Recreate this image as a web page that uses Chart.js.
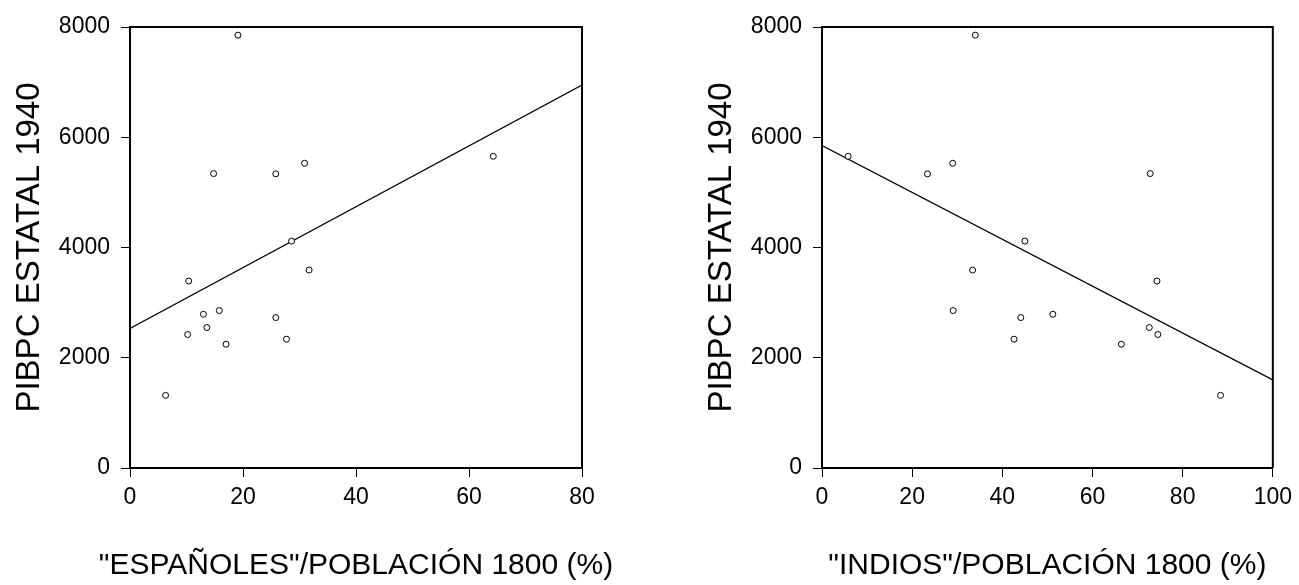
<!DOCTYPE html>
<html lang="es">

<head>
  <meta charset="UTF-8">
  <meta name="viewport" content="width=device-width, initial-scale=1.0">
  <title>PIBPC estatal 1940 vs población 1800</title>
  <script src="https://cdn.jsdelivr.net/npm/chart.js"></script>
  <style>
    html, body { margin: 0; padding: 0; background: #fff; }
    body { width: 1299px; height: 585px; position: relative; overflow: hidden; }
    canvas { position: absolute; top: 0; }
    #chartEsp { left: 0; }
    #chartInd { left: 692px; }
  </style>
</head>

<body>
  <canvas id="chartEsp" width="692" height="585"></canvas>
  <canvas id="chartInd" width="607" height="585"></canvas>

  <script>
    // PIB per cápita estatal 1940, one value per state (same order in both x arrays)
    const pibpc1940 = [5654, 5341, 5336, 5528, 7852, 4116, 3392, 3591, 2789, 2856, 2548, 2422, 2729, 2246, 2337, 1318];
    // "españoles" / población 1800 (%)
    const espanoles1800 = [64.3, 14.8, 25.8, 30.9, 19.1, 28.6, 10.4, 31.7, 13.0, 15.8, 13.6, 10.2, 25.8, 17.0, 27.7, 6.3];
    // "indios" / población 1800 (%)
    const indios1800 = [5.8, 72.8, 23.4, 29.0, 34.0, 45.0, 74.3, 33.4, 51.2, 29.1, 72.6, 74.5, 44.1, 66.4, 42.6, 88.4];

    // fitted lines: [intercept, slope]
    const fitEspanoles = [2530, 55.2];
    const fitIndios = [5848, -42.5];

    const yTicks = [0, 2000, 4000, 6000, 8000];
    const xTicksEsp = [0, 20, 40, 60, 80];
    const xTicksInd = [0, 20, 40, 60, 80, 100];

    const yTitle = 'PIBPC ESTATAL 1940';
    const xTitleEsp = '"ESPAÑOLES"/POBLACIÓN 1800 (%)';
    const xTitleInd = '"INDIOS"/POBLACIÓN 1800 (%)';

    const FONT = "'Liberation Sans', Arial, Helvetica, sans-serif";

    // closes the box on top and right of the plot area
    const frame = {
      id: 'frame',
      afterDraw(chart) {
        const { ctx, chartArea: a } = chart;
        ctx.save();
        ctx.strokeStyle = '#000';
        ctx.lineWidth = 2;
        ctx.beginPath();
        ctx.moveTo(a.left, a.top);
        ctx.lineTo(a.right, a.top);
        ctx.lineTo(a.right, a.bottom);
        ctx.stroke();
        ctx.restore();
      }
    };

    // x axis title, drawn without the scale's maxWidth so long titles aren't squeezed
    const xTitle = {
      id: 'xTitle',
      afterDraw(chart, args, opts) {
        const { ctx, chartArea: a } = chart;
        ctx.save();
        ctx.fillStyle = '#000';
        ctx.font = '30px ' + FONT;
        ctx.textAlign = 'center';
        ctx.textBaseline = 'middle';
        ctx.fillText(opts.text, (a.left + a.right) / 2, chart.height - 19);
        ctx.restore();
      }
    };

    function makeChart(el, xs, fit, xTicks, titleText, padRight) {
      const points = xs.map((x, i) => ({ x: x, y: pibpc1940[i] }));
      const xMax = xTicks[xTicks.length - 1];
      const line = [
        { x: 0, y: fit[0] },
        { x: xMax, y: fit[0] + fit[1] * xMax }
      ];
      return new Chart(el, {
        type: 'scatter',
        data: {
          datasets: [{
            data: points,
            pointStyle: 'circle',
            pointRadius: 3,
            pointBorderWidth: 1,
            borderColor: '#000',
            backgroundColor: '#fff'
          }, {
            type: 'line',
            data: line,
            showLine: true,
            pointRadius: 0,
            borderWidth: 1.3,
            borderColor: '#000',
            fill: false
          }]
        },
        options: {
          responsive: false,
          animation: false,
          devicePixelRatio: 1,
          layout: { padding: { top: 27, right: padRight, bottom: 0, left: 0 } },
          plugins: {
            legend: { display: false },
            tooltip: { enabled: false },
            xTitle: { text: titleText }
          },
          scales: {
            x: {
              type: 'linear',
              min: 0,
              max: xMax,
              afterBuildTicks: (s) => { s.ticks = xTicks.map(v => ({ value: v })); },
              afterFit: (s) => { s.height = 117; },
              grid: { drawOnChartArea: false, drawTicks: true, tickLength: 9, color: '#000', lineWidth: 1 },
              border: { display: true, color: '#000', width: 2 },
              ticks: { color: '#000', padding: 7, font: { family: FONT, size: 23 }, maxRotation: 0 }
            },
            y: {
              type: 'linear',
              min: 0,
              max: 8000,
              afterBuildTicks: (s) => { s.ticks = yTicks.map(v => ({ value: v })); },
              afterFit: (s) => { s.width = 130; },
              grid: { drawOnChartArea: false, drawTicks: true, tickLength: 9, color: '#000', lineWidth: 1 },
              border: { display: true, color: '#000', width: 2 },
              ticks: { color: '#000', padding: 11, font: { family: FONT, size: 23 }, callback: (v) => String(v) },
              title: { display: true, text: yTitle, color: '#000', font: { family: FONT, size: 33 }, padding: { top: 10, bottom: 0 } }
            }
          }
        },
        plugins: [frame, xTitle]
      });
    }

    makeChart(document.getElementById('chartEsp'), espanoles1800, fitEspanoles, xTicksEsp, xTitleEsp, 110);
    makeChart(document.getElementById('chartInd'), indios1800, fitIndios, xTicksInd, xTitleInd, 25);
  </script>
</body>

</html>
